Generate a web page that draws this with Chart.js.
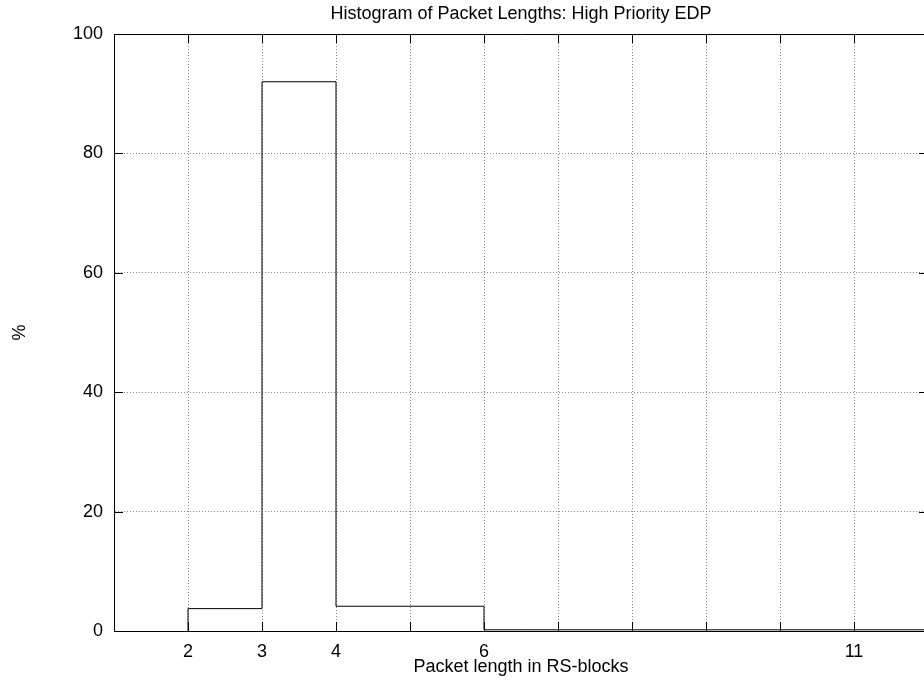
<!DOCTYPE html>
<html>
<head>
<meta charset="utf-8">
<title>Histogram of Packet Lengths</title>
<script src="https://cdn.jsdelivr.net/npm/chart.js@4.4.0/dist/chart.umd.min.js"></script>
<style>
  html, body { margin: 0; padding: 0; background: #fff; overflow: hidden; }
  #wrap { width: 1042px; height: 681px; }
</style>
</head>
<body>
<div id="wrap"><canvas id="histChart" width="1042" height="681"></canvas></div>
<script>
// Histogram data (bin left edges, last entry is right edge of last bin)
const binEdges = [2, 3, 4, 6, 12];
const percents = [3.75, 92.0, 4.15, 0.2];

// Axis ticks
const xGridTicks = [1, 2, 3, 4, 5, 6, 7, 8, 9, 10, 11, 12];
const xTickLabels = [2, 3, 4, 6, 11];
const yTicks = [0, 20, 40, 60, 80, 100];

// step outline points
const points = [{ x: binEdges[0], y: 0 }];
percents.forEach((p, i) => points.push({ x: binEdges[i], y: p }));
points.push({ x: binEdges[binEdges.length - 1], y: percents[percents.length - 1] });

Chart.defaults.font.family = '"Liberation Sans", Arial, Helvetica, sans-serif';
Chart.defaults.font.size = 18;
Chart.defaults.color = '#000';

// gnuplot style frame with inward tick marks
const framePlugin = {
    id: 'frame',
    afterDraw(chart) {
        const { ctx, chartArea: a, scales } = chart;
        const tl = 9;
        ctx.save();
        ctx.strokeStyle = '#000';
        ctx.lineWidth = 1;
        ctx.beginPath();
        ctx.rect(Math.round(a.left) + 0.5, Math.round(a.top) + 0.5,
                 Math.round(a.right - a.left), Math.round(a.bottom - a.top));
        scales.x.ticks.forEach(t => {
            const px = Math.round(scales.x.getPixelForValue(t.value)) + 0.5;
            ctx.moveTo(px, a.bottom); ctx.lineTo(px, a.bottom - tl);
            ctx.moveTo(px, a.top); ctx.lineTo(px, a.top + tl);
        });
        scales.y.ticks.forEach(t => {
            const py = Math.round(scales.y.getPixelForValue(t.value)) + 0.5;
            ctx.moveTo(a.left, py); ctx.lineTo(a.left + tl, py);
            ctx.moveTo(a.right, py); ctx.lineTo(a.right - tl, py);
        });
        ctx.stroke();
        ctx.restore();
    }
};

const ctx = document.getElementById('histChart').getContext('2d');
new Chart(ctx, {
    type: 'line',
    data: {
        datasets: [{
            label: 'High Priority EDP',
            data: points,
            stepped: 'before',
            borderColor: '#000',
            borderWidth: 1,
            pointRadius: 0,
            fill: false,
        }]
    },
    options: {
        responsive: false,
        animation: false,
        layout: { padding: { left: 0, right: 114, top: 0, bottom: 0 } },
        plugins: {
            legend: { display: false },
            tooltip: { enabled: false },
            title: {
                display: true,
                fullSize: false,
                text: 'Histogram of Packet Lengths: High Priority EDP',
                font: { size: 18, weight: 'normal' },
                color: '#000',
                padding: { top: 3.7, bottom: 8.7 }
            }
        },
        scales: {
            x: {
                type: 'linear',
                min: 1,
                max: 12,
                afterBuildTicks(scale) {
                    scale.ticks = xGridTicks.map(v => ({ value: v }));
                },
                afterFit(scale) { scale.height = 50; },
                ticks: {
                    autoSkip: false,
                    maxRotation: 0,
                    padding: 10,
                    callback: v => xTickLabels.includes(v) ? String(v) : ''
                },
                grid: { color: '#888', drawTicks: false },
                border: { color: '#000', dash: [1, 2] },
                title: {
                    display: true,
                    text: 'Packet length in RS-blocks',
                    padding: { top: 0, bottom: 3 }
                }
            },
            y: {
                min: 0,
                max: 100,
                afterBuildTicks(scale) {
                    scale.ticks = yTicks.map(v => ({ value: v }));
                },
                afterFit(scale) { scale.width = 114; },
                ticks: { padding: 11 },
                grid: { color: '#888', drawTicks: false },
                border: { color: '#000', dash: [1, 2] },
                title: {
                    display: true,
                    text: '%',
                    padding: { top: 9, bottom: 0 }
                }
            }
        }
    },
    plugins: [framePlugin]
});
</script>
</body>
</html>
